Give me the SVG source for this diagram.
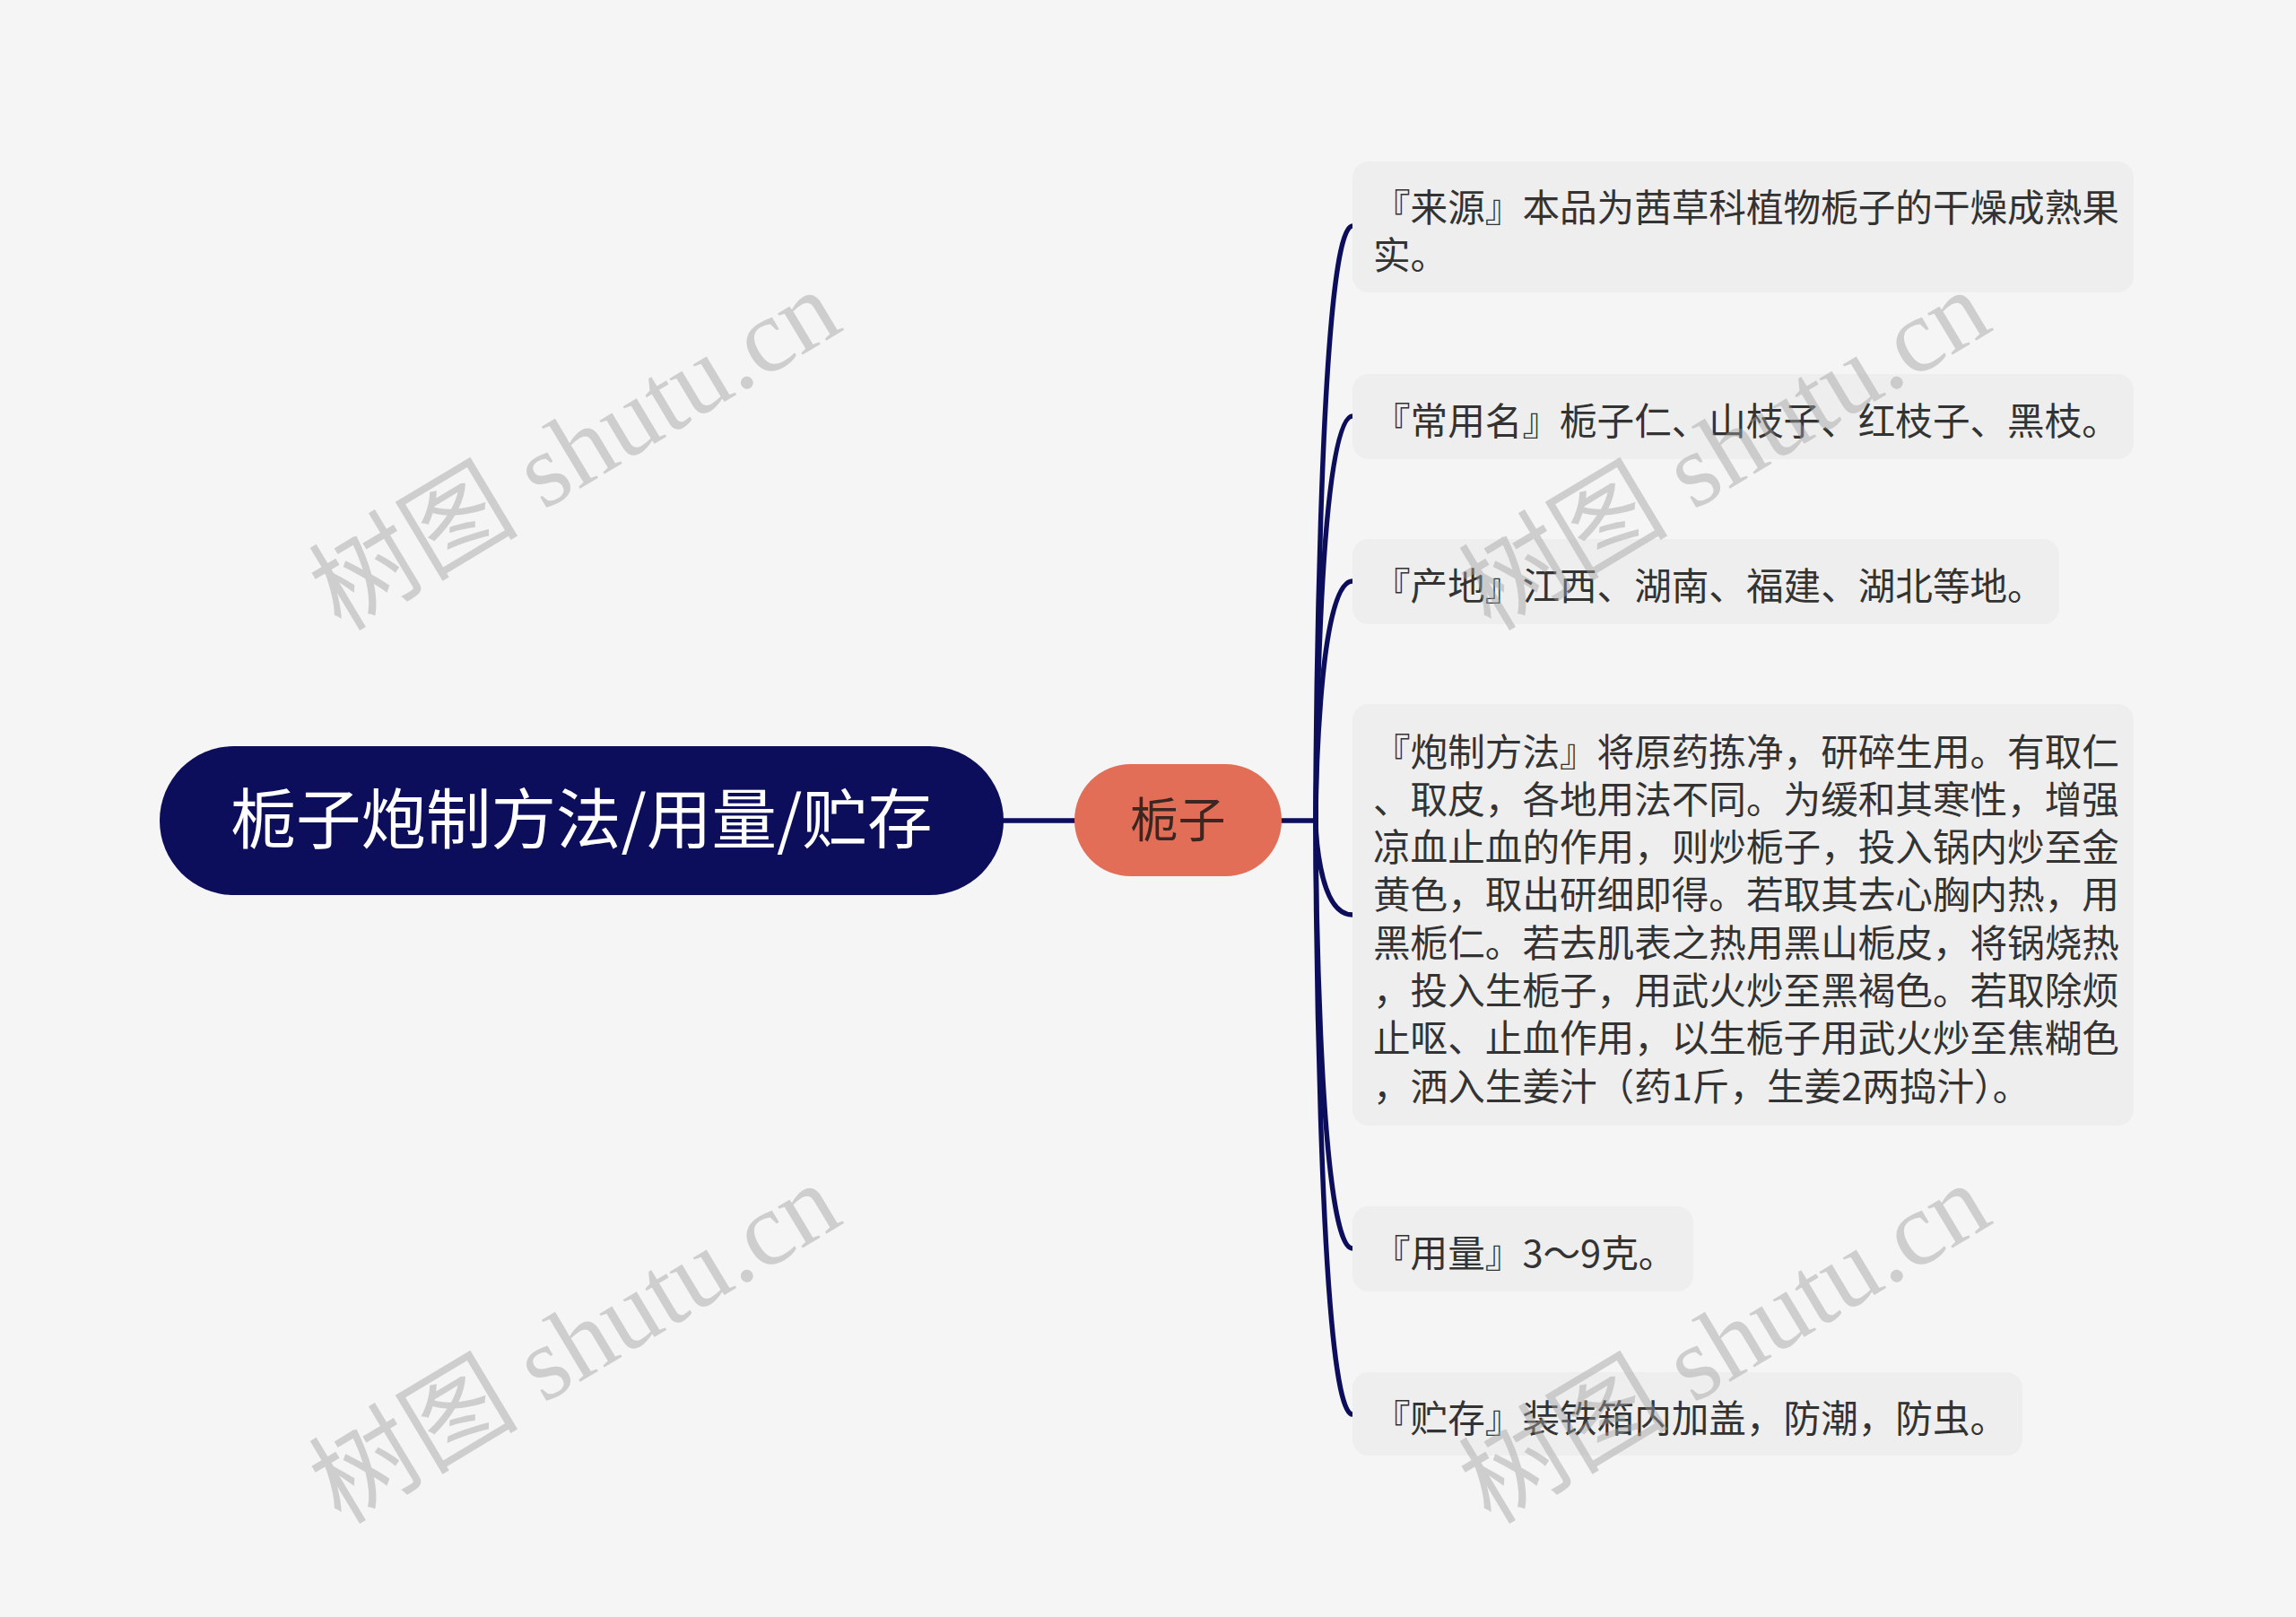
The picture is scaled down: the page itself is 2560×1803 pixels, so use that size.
<svg xmlns="http://www.w3.org/2000/svg" width="2560" height="1803" viewBox="0 0 2560 1803">
<style>
.bg{fill:#f5f5f5}
.wm{font-family:"Liberation Serif","Noto Sans CJK SC",serif;font-size:117px;fill:#a0a0a0;fill-opacity:0.45}
.conn{fill:none;stroke:#0c0e5c;stroke-width:5.5;stroke-linecap:round}
.leaf rect{fill:#eeeeee}
.leaf text{font-family:"Noto Sans CJK SC","Noto Sans CJK JP",sans-serif;font-size:41.6px;fill:#333333}
</style>
<rect class="bg" x="0" y="0" width="2560" height="1803"/>
<g id="connectors">
<path class="conn" d="M1118 915 L1198 915"/>
<path class="conn" d="M1429 915 L1467 915"/>
<path class="conn" d="M1467 915 C1467 915 1468 252 1508 252"/>
<path class="conn" d="M1467 915 C1467 915 1468 464 1508 464"/>
<path class="conn" d="M1467 915 C1467 915 1468 648 1508 648"/>
<path class="conn" d="M1467 915 C1467 915 1468 1020 1508 1020"/>
<path class="conn" d="M1467 915 C1467 915 1468 1392 1508 1392"/>
<path class="conn" d="M1467 915 C1467 915 1468 1577 1508 1577"/>
</g>
<g id="root">
<rect x="178" y="832" width="941" height="166" rx="83" fill="#0c0e5c"/>
<text x="648.5" y="940" text-anchor="middle" font-family="Noto Sans CJK SC, sans-serif" font-size="72.5" fill="#ffffff">栀子炮制方法/用量/贮存</text>
</g>
<g id="main">
<rect x="1198" y="852" width="231" height="125" rx="62.5" fill="#e36e58"/>
<text x="1313.5" y="934" text-anchor="middle" font-family="Noto Sans CJK SC, sans-serif" font-size="53" fill="#3b2622">栀子</text>
</g>
<g id="leaf1" class="leaf">
<rect x="1508" y="180" width="871" height="146" rx="18"/>
<text x="1531" y="247">『来源』本品为茜草科植物栀子的干燥成熟果</text>
<text x="1531" y="300">实。</text>
</g>
<g id="leaf2" class="leaf">
<rect x="1508" y="417" width="871" height="95" rx="18"/>
<text x="1531" y="485">『常用名』栀子仁、山枝子、红枝子、黑枝。</text>
</g>
<g id="leaf3" class="leaf">
<rect x="1508" y="601" width="788" height="95" rx="18"/>
<text x="1531" y="669">『产地』江西、湖南、福建、湖北等地。</text>
</g>
<g id="leaf4" class="leaf">
<rect x="1508" y="785" width="871" height="470" rx="18"/>
<text x="1531" y="853.5">『炮制方法』将原药拣净，研碎生用。有取仁</text>
<text x="1531" y="906.8">、取皮，各地用法不同。为缓和其寒性，增强</text>
<text x="1531" y="960.1">凉血止血的作用，则炒栀子，投入锅内炒至金</text>
<text x="1531" y="1013.4">黄色，取出研细即得。若取其去心胸内热，用</text>
<text x="1531" y="1066.7">黑栀仁。若去肌表之热用黑山栀皮，将锅烧热</text>
<text x="1531" y="1120">，投入生栀子，用武火炒至黑褐色。若取除烦</text>
<text x="1531" y="1173.3">止呕、止血作用，以生栀子用武火炒至焦糊色</text>
<text x="1531" y="1226.6">，洒入生姜汁（药1斤，生姜2两捣汁）。</text>
</g>
<g id="leaf5" class="leaf">
<rect x="1508" y="1345" width="380" height="95" rx="18"/>
<text x="1531" y="1413">『用量』3～9克。</text>
</g>
<g id="leaf6" class="leaf">
<rect x="1508" y="1530" width="747" height="93" rx="18"/>
<text x="1531" y="1597">『贮存』装铁箱内加盖，防潮，防虫。</text>
</g>
<g id="watermarks">
<text class="wm" transform="translate(380,705) rotate(-31)">树图 shutu.cn</text>
<text class="wm" transform="translate(1662,705) rotate(-31)">树图 shutu.cn</text>
<text class="wm" transform="translate(380,1701) rotate(-31)">树图 shutu.cn</text>
<text class="wm" transform="translate(1662,1701) rotate(-31)">树图 shutu.cn</text>
</g>
</svg>
